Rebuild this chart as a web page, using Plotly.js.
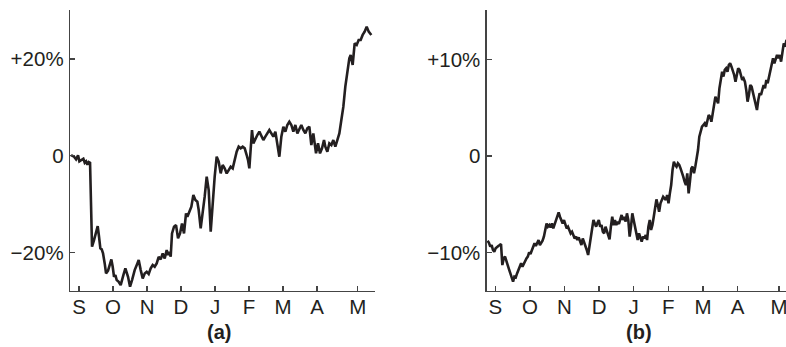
<!DOCTYPE html>
<html>
<head>
<meta charset="utf-8">
<script src="https://cdn.plot.ly/plotly-3.0.1.min.js"></script>
<style>html,body{margin:0;padding:0;background:#fff;}#chart{width:786px;height:347px;}</style>
</head>
<body>
<div id="chart"></div>
<script>
// x positions are in "months after the September tick"
const monthTickLabels = ["S","O","N","D","J","F","M","A","M"];
const monthTickPos = [0,1,2,3,4,5,6,7,8.2];

const aX = [-0.235,-0.147,-0.088,-0.029,0.010,0.069,0.127,0.167,0.206,0.245,0.284,0.324,0.382,0.441,0.5,0.549,0.588,0.627,0.667,0.706,0.755,0.794,0.853,0.912,0.951,0.990,1.029,1.069,1.108,1.167,1.225,1.304,1.363,1.441,1.5,1.559,1.637,1.716,1.755,1.814,1.873,1.931,1.990,2.049,2.108,2.167,2.225,2.284,2.343,2.402,2.461,2.520,2.578,2.618,2.657,2.696,2.735,2.794,2.853,2.912,2.971,3.029,3.088,3.147,3.186,3.245,3.304,3.363,3.422,3.480,3.520,3.578,3.637,3.696,3.755,3.814,3.873,3.931,3.990,4.049,4.108,4.167,4.225,4.284,4.343,4.402,4.461,4.520,4.578,4.637,4.696,4.755,4.814,4.873,4.931,4.971,5.010,5.049,5.088,5.127,5.186,5.245,5.304,5.363,5.422,5.480,5.539,5.598,5.657,5.716,5.775,5.833,5.892,5.951,6.010,6.069,6.127,6.186,6.245,6.304,6.363,6.422,6.480,6.539,6.598,6.657,6.716,6.775,6.833,6.892,6.931,6.971,7.029,7.088,7.147,7.206,7.245,7.304,7.363,7.422,7.480,7.539,7.598,7.657,7.716,7.775,7.833,7.892,7.951,7.990,8.049,8.108,8.167,8.225,8.284,8.343,8.402,8.461,8.520,8.598];
const aY = [0.14,-0.21,-0.76,0.07,-1.17,-0.90,-0.62,-1.45,-1.17,-1.86,-1.31,-1.45,-18.83,-17.45,-15.72,-14.55,-16.76,-19.17,-19.38,-20.21,-22.28,-24.35,-23.79,-22.28,-21.45,-22.97,-25.03,-24.69,-25.72,-26.07,-26.76,-24.69,-23.31,-25.03,-27.10,-25.72,-23.66,-22.28,-21.59,-23.66,-25.38,-24.35,-24.00,-24.48,-23.31,-22.62,-22.97,-22.28,-20.90,-21.45,-20.21,-21.24,-19.52,-20.55,-19.86,-20.90,-16.07,-14.69,-14.35,-17.10,-16.07,-14.00,-16.07,-11.93,-12.62,-11.59,-10.55,-8.14,-9.17,-9.52,-11.24,-15.03,-11.93,-8.48,-4.34,-7.10,-15.72,-9.17,-4.34,-0.21,-1.24,-3.66,-1.93,-2.62,-3.66,-2.97,-2.28,-2.62,-0.90,0.83,1.86,1.52,1.86,1.52,0.14,-0.90,-2.62,1.52,5.31,2.55,3.59,4.28,4.97,3.93,3.24,3.93,4.62,5.31,4.62,3.93,4.97,1.86,-0.21,3.93,6.00,4.97,6.35,7.03,6.35,4.97,6.35,4.62,5.66,6.35,5.31,4.62,5.66,6.00,2.21,4.62,2.55,0.48,2.55,0.48,1.52,3.24,1.86,0.83,2.55,2.21,3.24,1.86,3.24,4.62,7.38,10.14,14.28,17.72,20.14,20.83,18.76,23.24,22.90,23.93,23.93,24.97,25.66,26.69,25.66,24.97];

const bX = [-0.223,-0.184,-0.145,-0.106,-0.068,-0.029,0.010,0.048,0.087,0.126,0.165,0.203,0.242,0.281,0.319,0.358,0.397,0.436,0.474,0.513,0.552,0.591,0.629,0.668,0.707,0.745,0.784,0.823,0.862,0.900,0.939,0.978,1.016,1.055,1.094,1.133,1.171,1.210,1.249,1.288,1.326,1.365,1.404,1.442,1.481,1.520,1.559,1.597,1.636,1.675,1.713,1.752,1.791,1.830,1.868,1.907,1.946,1.985,2.023,2.062,2.101,2.139,2.178,2.217,2.256,2.294,2.333,2.372,2.410,2.449,2.488,2.527,2.565,2.604,2.643,2.682,2.720,2.759,2.798,2.836,2.875,2.914,2.953,2.991,3.030,3.069,3.107,3.146,3.185,3.224,3.262,3.301,3.340,3.379,3.417,3.456,3.495,3.533,3.572,3.611,3.650,3.688,3.727,3.766,3.804,3.843,3.882,3.921,3.959,3.998,4.037,4.076,4.114,4.153,4.192,4.230,4.269,4.308,4.347,4.385,4.424,4.463,4.501,4.540,4.579,4.618,4.656,4.695,4.734,4.773,4.811,4.850,4.889,4.927,4.966,5.005,5.044,5.082,5.121,5.160,5.198,5.237,5.276,5.315,5.353,5.392,5.431,5.470,5.508,5.547,5.586,5.624,5.663,5.702,5.741,5.779,5.818,5.857,5.895,5.934,5.973,6.012,6.050,6.089,6.128,6.166,6.205,6.244,6.283,6.321,6.360,6.399,6.438,6.476,6.515,6.554,6.592,6.631,6.670,6.709,6.747,6.786,6.825,6.863,6.902,6.941,6.980,7.018,7.057,7.096,7.135,7.173,7.212,7.251,7.289,7.328,7.367,7.406,7.444,7.483,7.522,7.561,7.599,7.638,7.677,7.715,7.754,7.793,7.832,7.870,7.909,7.948,7.986,8.025,8.064,8.103,8.141,8.180,8.219,8.258,8.296,8.335,8.374,8.413,8.442];
const bY = [-8.76,-8.97,-9.38,-9.21,-9.72,-9.90,-9.55,-9.38,-9.31,-9.21,-9.10,-11.28,-10.59,-10.41,-10.76,-11.28,-11.72,-12.14,-12.76,-13.00,-12.48,-12.55,-12.14,-11.79,-11.28,-11.10,-11.45,-11.10,-10.76,-10.59,-10.41,-9.97,-10.14,-9.72,-9.38,-9.03,-9.31,-8.97,-8.69,-9.21,-9.03,-8.76,-8.34,-7.65,-6.97,-7.31,-7.14,-7.38,-6.97,-7.48,-7.03,-6.62,-6.28,-5.83,-6.28,-6.62,-6.97,-6.62,-7.03,-7.48,-7.31,-7.72,-8.00,-7.83,-8.17,-8.52,-8.34,-8.69,-8.41,-8.86,-9.21,-8.52,-8.86,-9.38,-9.72,-10.24,-9.38,-8.41,-7.65,-6.62,-6.97,-7.31,-6.90,-6.62,-7.31,-7.14,-7.83,-8.00,-7.31,-7.83,-8.17,-8.62,-7.31,-6.28,-7.14,-6.62,-7.14,-6.79,-7.03,-6.62,-6.10,-6.62,-6.28,-6.79,-5.93,-6.62,-8.34,-7.31,-5.93,-6.62,-7.31,-8.00,-8.69,-8.00,-8.34,-8.86,-8.34,-8.52,-8.17,-8.69,-7.31,-6.62,-7.65,-7.14,-6.28,-5.24,-4.48,-5.07,-5.76,-4.90,-4.55,-4.21,-4.38,-4.55,-4.03,-4.90,-3.86,-3.00,-1.45,-0.59,-0.93,-1.10,-0.76,-0.93,-1.28,-1.62,-2.14,-2.65,-3.00,-1.79,-3.86,-2.65,-1.28,-1.10,-1.79,-1.10,-0.41,0.62,2.00,2.69,3.03,3.21,3.38,3.03,3.72,4.24,4.07,3.55,4.41,5.45,6.14,5.79,5.45,7.00,7.86,8.72,8.21,8.90,9.07,8.72,9.41,9.59,9.24,8.90,8.38,7.69,8.38,9.07,8.90,8.21,7.86,8.03,7.69,6.83,5.62,6.31,7.34,7.17,6.48,5.79,5.45,4.76,5.79,6.48,6.31,6.83,7.34,7.00,7.86,7.52,8.21,8.72,9.24,10.10,9.59,9.93,10.45,10.10,10.45,9.76,10.62,11.65,11.31,12.00,11.83];

const aTickVals = [20, 0, -20];
const aTickText = ["+20%", "0", "\u221220%"];
const bTickVals = [10, 0, -10];
const bTickText = ["+10%", "0", "\u221210%"];
const panelLabels = ["(a)", "(b)"];

const lineStyle = {color: "#231f20", width: 2.6, shape: "linear"};
const data = [
  {x: aX, y: aY, type: "scatter", mode: "lines", line: lineStyle, xaxis: "x", yaxis: "y", hoverinfo: "skip"},
  {x: bX, y: bY, type: "scatter", mode: "lines", line: lineStyle, xaxis: "x2", yaxis: "y2", hoverinfo: "skip"}
];

const tickFont = {family: "Liberation Sans, Arial, sans-serif", size: 20.5, color: "#231f20"};
function xAx(domain, range, anchor) {
  return {domain: domain, range: range, anchor: anchor, tickmode: "array", tickvals: monthTickPos, ticktext: monthTickLabels,
    ticks: "inside", ticklen: 5, tickwidth: 1.3, tickcolor: "#444", showline: true, linecolor: "#444", linewidth: 1.3,
    showgrid: false, zeroline: false, tickfont: tickFont, ticklabelstandoff: -3, ticklabeloverflow: "allow", fixedrange: true};
}
function yAx(domain, range, anchor, vals, text) {
  return {domain: domain, range: range, anchor: anchor, tickmode: "array", tickvals: vals, ticktext: text,
    ticks: "inside", ticklen: 5, tickwidth: 1.3, tickcolor: "#444", showline: true, linecolor: "#444", linewidth: 1.3,
    showgrid: false, zeroline: false, tickfont: tickFont, ticklabelstandoff: 1, fixedrange: true};
}
const yDom = [0.1614, 0.9712];
const labelFont = {family: "Liberation Sans, Arial, sans-serif", size: 20, color: "#231f20"};
const layout = {
  width: 786, height: 347,
  margin: {l: 0, r: 0, t: 0, b: 0},
  paper_bgcolor: "#fff", plot_bgcolor: "#fff",
  showlegend: false,
  xaxis: xAx([0.0891, 0.4771], [-0.265, 8.706], "y"),
  yaxis: yAx(yDom, [-27.98, 30.13], "x", aTickVals, aTickText),
  xaxis2: xAx([0.6192, 1.0], [-0.249, 8.40], "y2"),
  yaxis2: yAx(yDom, [-13.96, 15.10], "x2", bTickVals, bTickText),
  annotations: [
    {text: "<b>" + panelLabels[0] + "</b>", xref: "paper", yref: "paper", x: 0.2786, y: 0.0432, xanchor: "center", yanchor: "middle", showarrow: false, font: labelFont},
    {text: "<b>" + panelLabels[1] + "</b>", xref: "paper", yref: "paper", x: 0.813, y: 0.0432, xanchor: "center", yanchor: "middle", showarrow: false, font: labelFont}
  ]
};
Plotly.newPlot("chart", data, layout, {displayModeBar: false, staticPlot: true});
</script>
</body>
</html>
